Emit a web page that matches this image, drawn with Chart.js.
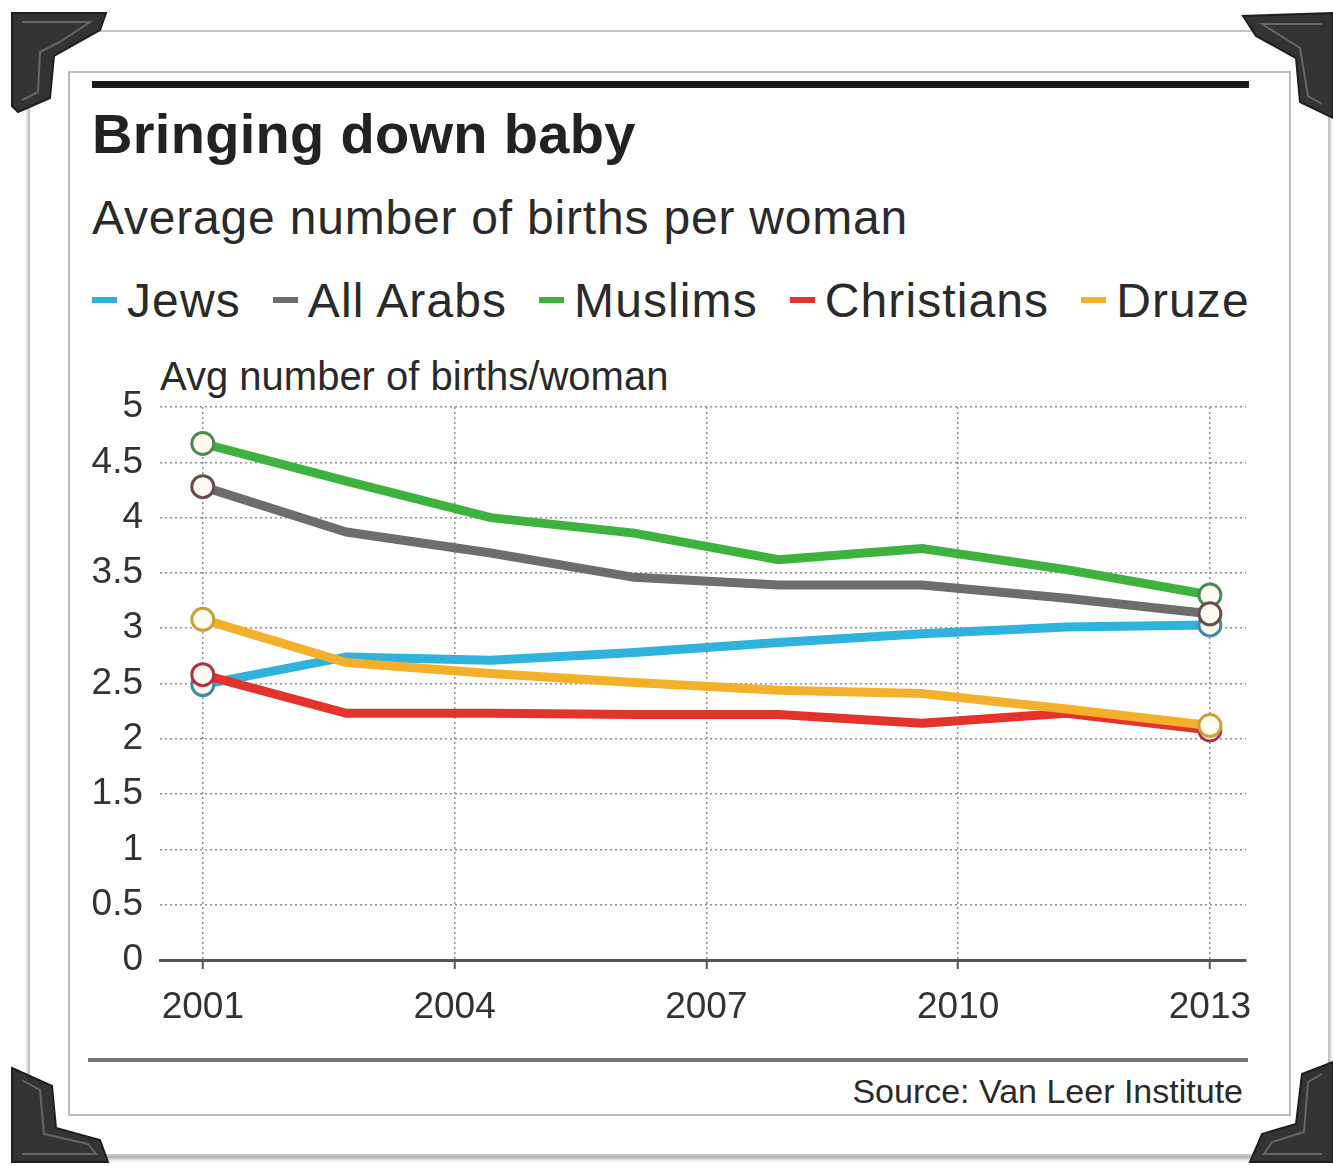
<!DOCTYPE html>
<html>
<head>
<meta charset="utf-8">
<script src="https://cdn.jsdelivr.net/npm/chart.js@4"></script>
<style>
  body { margin: 0; background: #fff; width: 1333px; height: 1166px; position: relative; overflow: hidden;
         font-family: "Liberation Sans", Arial, sans-serif; color: #222; }
  .abs { position: absolute; white-space: nowrap; }
  #outer { left: 28px; top: 30px; width: 1298px; height: 1122px; border: 2px solid #c4c4c4;
           box-shadow: 0 3px 4px rgba(0,0,0,0.35); }
  #inner { left: 68px; top: 71px; width: 1219px; height: 1041px; border: 2px solid #bdbdbd; }
  #topRule { left: 92px; top: 81px; width: 1157px; height: 7px; background: #1a1a1a; }
  #title { left: 92px; top: 106px; font-size: 56px; line-height: 56px; font-weight: bold; color: #222; letter-spacing: 0.3px; }
  #subtitle { left: 92px; top: 194px; font-size: 48px; line-height: 48px; color: #2a2a2a; letter-spacing: 0.8px; }
  #legend { left: 92px; top: 277px; font-size: 48px; line-height: 48px; color: #2a2a2a; letter-spacing: 1.1px; }
  #legend span.item { display: inline-block; margin-right: 32px; }
  #legend span.dash { display: inline-block; width: 25px; height: 6px; margin-right: 10px; vertical-align: 14px; }
  #axisTitle { left: 160px; top: 356px; font-size: 40px; line-height: 40px; color: #2a2a2a; }
  #chartBox { left: 80px; top: 360px; width: 1180px; height: 680px; }
  #bottomRule { left: 88px; top: 1058px; width: 1160px; height: 4px; background: #777; }
  #source { right: 90px; top: 1074px; font-size: 34px; line-height: 34px; color: #2a2a2a; }
  #corners { left: 0; top: 0; }
</style>
</head>
<body>
<div class="abs" id="outer"></div>
<div class="abs" id="inner"></div>
<div class="abs" id="topRule"></div>
<div class="abs" id="title">Bringing down baby</div>
<div class="abs" id="subtitle">Average number of births per woman</div>
<div class="abs" id="legend"></div>
<div class="abs" id="axisTitle">Avg number of births/woman</div>
<div class="abs" id="chartBox"><canvas id="myChart" width="1180" height="680"></canvas></div>
<div class="abs" id="bottomRule"></div>
<div class="abs" id="source">Source: Van Leer Institute</div>
<svg class="abs" id="corners" width="1333" height="1166">
  <g fill="#333" stroke="#1e1e1e" stroke-width="2">
    <polygon points="12,13 106,13 100,30 54,56 50,98 18,112 12,106"/>
    <polygon points="1333,13 1243,16 1256,36 1296,58 1300,102 1333,118"/>
    <polygon points="12,1068 52,1086 56,1128 100,1140 108,1162 12,1162"/>
    <polygon points="1333,1062 1302,1074 1296,1124 1262,1134 1250,1162 1333,1162"/>
  </g>
  <g fill="none" stroke="#666" stroke-width="2">
    <polyline points="22,22 90,22 60,42 40,52 38,92 22,100"/>
    <polyline points="1322,24 1262,24 1300,48 1308,96 1322,104"/>
    <polyline points="22,1080 40,1090 44,1134 88,1144 96,1154 22,1154"/>
    <polyline points="1322,1074 1308,1082 1304,1132 1272,1142 1264,1154 1322,1154"/>
  </g>
</svg>
<script>
var years = [2001, 2002.71, 2004.43, 2006.14, 2007.86, 2009.57, 2011.29, 2013];
var jews = [2.49, 2.74, 2.71, 2.78, 2.87, 2.95, 3.01, 3.03];
var allArabs = [4.28, 3.87, 3.68, 3.46, 3.39, 3.39, 3.27, 3.13];
var muslims = [4.67, 4.33, 4.00, 3.86, 3.62, 3.72, 3.53, 3.30];
var christians = [2.58, 2.23, 2.23, 2.22, 2.22, 2.14, 2.23, 2.08];
var druze = [3.08, 2.69, 2.59, 2.51, 2.44, 2.41, 2.27, 2.12];
var xTicks = [2001, 2004, 2007, 2010, 2013];
var yTicks = [0, 0.5, 1, 1.5, 2, 2.5, 3, 3.5, 4, 4.5, 5];

var seriesNames = ['Jews', 'All Arabs', 'Muslims', 'Christians', 'Druze'];
var seriesValues = [jews, allArabs, muslims, christians, druze];
var lineColors = ['#2fb3dc', '#6d6d6d', '#3db33d', '#e5322b', '#f4b02a'];
var markerColors = ['#3d8d9e', '#6a4c4c', '#4b8a52', '#b23245', '#c9a03c'];
var drawOrder = [5, 3, 4, 2, 1];

// html legend
var legendEl = document.getElementById('legend');
seriesNames.forEach(function (name, i) {
  var item = document.createElement('span');
  item.className = 'item';
  item.innerHTML = '<span class="dash" style="background:' + lineColors[i] + '"></span>' + name;
  legendEl.appendChild(item);
});

function toPoints(vals) {
  return vals.map(function (v, i) { return { x: years[i], y: v }; });
}
function endRadius(vals) {
  return vals.map(function (v, i) { return (i === 0 || i === vals.length - 1) ? 11 : 0; });
}

var ctx = document.getElementById('myChart').getContext('2d');
var myChart = new Chart(ctx, {
  type: 'line',
  data: {
    datasets: seriesNames.map(function (name, i) {
      return {
        label: name,
        data: toPoints(seriesValues[i]),
        borderColor: lineColors[i],
        borderWidth: 9,
        tension: 0,
        order: drawOrder[i],
        pointRadius: endRadius(seriesValues[i]),
        pointHoverRadius: endRadius(seriesValues[i]),
        pointBorderWidth: 3,
        pointBorderColor: markerColors[i],
        pointBackgroundColor: '#fffaf0'
      };
    })
  },
  options: {
    responsive: false,
    animation: false,
    layout: { padding: { top: 47, right: 12, bottom: 0, left: 0 } },
    plugins: {
      legend: { display: false },
      title: { display: false },
      tooltip: { enabled: false }
    },
    scales: {
      x: {
        type: 'linear',
        min: 2000.49,
        max: 2013.43,
        afterBuildTicks: function (scale) {
          scale.ticks = xTicks.map(function (v) { return { value: v }; });
        },
        afterFit: function (scale) {
          scale.height = 80;
          scale.paddingLeft = 0;
          scale.paddingRight = 0;
        },
        grid: {
          color: '#8f8f8f',
          lineWidth: 1.5,
          drawTicks: true,
          tickLength: 9,
          tickColor: '#555',
          tickWidth: 2
        },
        border: { display: true, color: '#555', width: 3, dash: [2, 3] },
        ticks: {
          padding: 17,
          color: '#333',
          font: { family: 'Liberation Sans', size: 37 },
          callback: function (value) { return String(value); }
        }
      },
      y: {
        min: 0,
        max: 5,
        afterBuildTicks: function (scale) {
          scale.ticks = yTicks.map(function (v) { return { value: v }; });
        },
        afterFit: function (scale) {
          scale.width = 80;
          scale.paddingTop = 0;
          scale.paddingBottom = 0;
        },
        grid: {
          color: function (c) { return c.tick && c.tick.value === 0 ? 'rgba(0,0,0,0)' : '#8f8f8f'; },
          lineWidth: 1.5,
          drawTicks: false
        },
        border: { display: false, dash: [2, 3] },
        ticks: {
          padding: 17,
          color: '#333',
          font: { family: 'Liberation Sans', size: 37 },
          callback: function (value) { return String(value); }
        }
      }
    }
  }
});
</script>
</body>
</html>
